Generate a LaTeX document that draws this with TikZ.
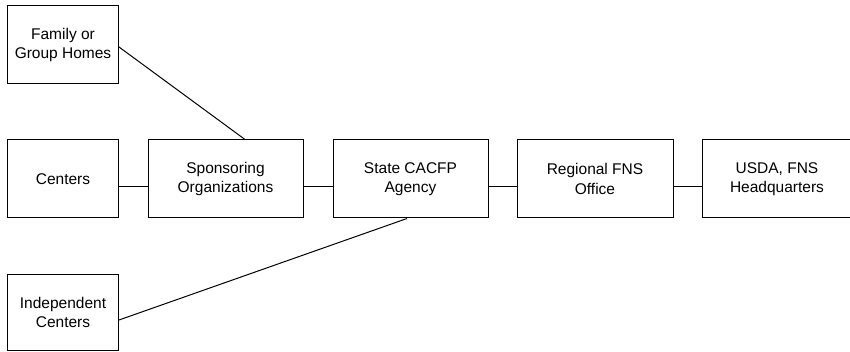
\documentclass[tikz,border=0pt]{standalone}
\usepackage{fontspec}
\setmainfont{Liberation Sans}

\begin{document}
\begin{tikzpicture}[x = 1pt, y = -1pt, line width = 1pt,
    box/.style = {draw, align = center, inner sep = 0pt, minimum height = 78pt,
                  font = \fontsize{15.5}{19.5}\selectfont}]
\useasboundingbox (0,0) rectangle (850,352);
\draw
    (63,45) node[box, minimum width = 111pt](fam){Family or\\Group Homes}
    (63,179) node[box, minimum width = 111pt](cen){Centers}
    (225.5,179) node[box, minimum width = 155pt](spo){Sponsoring\\Organizations}
    (410.5,179) node[box, minimum width = 155pt](sta){State CACFP\\Agency}
    (595,179) node[box, minimum width = 156pt](reg){Regional FNS\\Office}
    (777,179) node[box, minimum width = 150pt](usd){USDA, FNS\\Headquarters}
    (63,312.5) node[box, minimum width = 111pt, minimum height = 76pt](ind){Independent\\Centers};

    \draw ([yshift = -8pt]cen.east) -- ([yshift = -8pt]spo.west);
    \draw ([yshift = -8pt]spo.east) -- ([yshift = -8pt]sta.west);
    \draw ([yshift = -8pt]sta.east) -- ([yshift = -8pt]reg.west);
    \draw ([yshift = -8pt]reg.east) -- ([yshift = -8pt]usd.west);

    \draw ([yshift = -2pt]fam.east) -- ([xshift = 19.5pt]spo.north);
    \draw ([yshift = -7.5pt]ind.east) -- ([xshift = -3.5pt]sta.south);

\end{tikzpicture}
\end{document}
